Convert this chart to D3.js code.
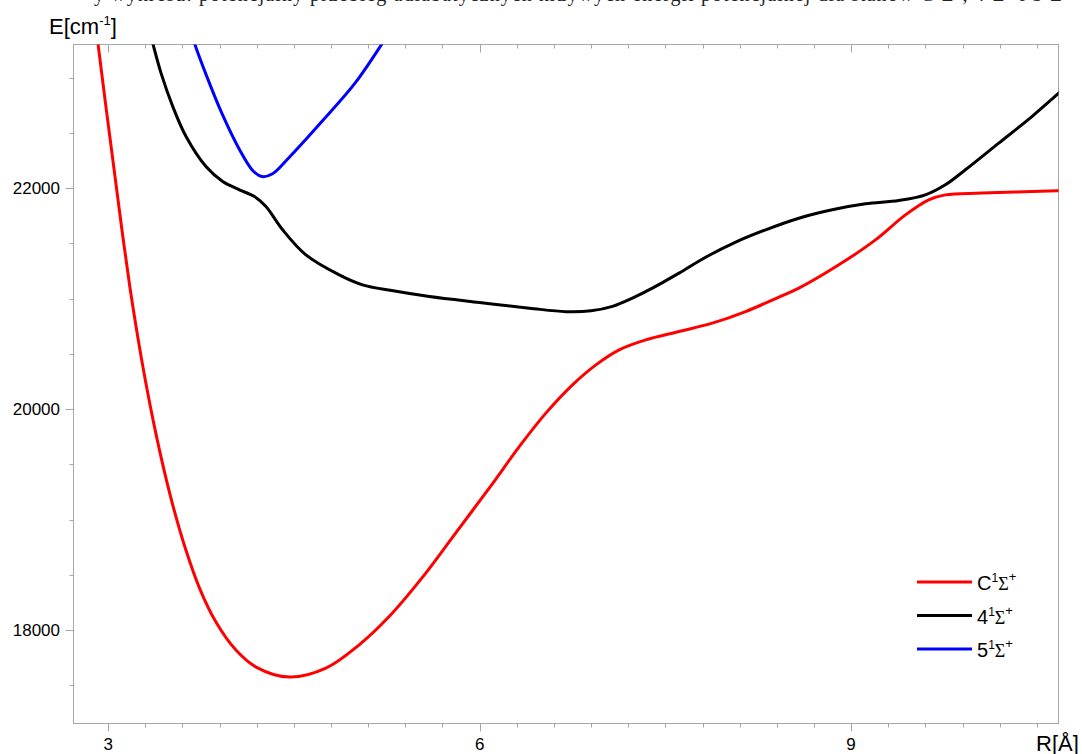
<!DOCTYPE html>
<html>
<head>
<meta charset="utf-8">
<script src="https://cdn.jsdelivr.net/npm/d3@7/dist/d3.min.js"></script>
<style>
  html, body { margin: 0; padding: 0; background: #fff; }
  svg { display: block; }
</style>
</head>
<body>
<svg id="chart" width="1082" height="754"></svg>
<script>
// Potential energy curves E(R) for three 1Σ+ states
const stateC = [
  [2.90, 23460], [2.917, 23315], [2.981, 22745], [3.046, 22184], [3.110, 21632],
  [3.175, 21107], [3.240, 20646], [3.304, 20238], [3.369, 19867], [3.449, 19460],
  [3.530, 19098], [3.627, 18727], [3.740, 18374], [3.869, 18076], [4.030, 17822],
  [4.191, 17668], [4.465, 17575], [4.758, 17656], [5.027, 17867], [5.269, 18123],
  [5.565, 18516], [5.806, 18878], [6.097, 19315], [6.320, 19661], [6.535, 19964],
  [6.750, 20220], [6.939, 20401], [7.127, 20537], [7.342, 20627], [7.610, 20702],
  [7.879, 20778], [8.148, 20883], [8.417, 21014], [8.578, 21095], [8.901, 21306],
  [9.197, 21532], [9.439, 21758], [9.627, 21894], [9.761, 21939], [10.056, 21955],
  [10.661, 21976], [10.70, 21978]
];
const state4 = [
  [3.33, 23440], [3.360, 23312], [3.427, 23041], [3.522, 22738], [3.629, 22467],
  [3.790, 22195], [3.925, 22060], [4.060, 21985], [4.181, 21924], [4.274, 21833],
  [4.409, 21623], [4.597, 21396], [4.866, 21215], [5.054, 21125], [5.290, 21073],
  [5.594, 21019], [5.998, 20965], [6.401, 20914], [6.697, 20882], [6.900, 20890],
  [7.073, 20930], [7.234, 21005], [7.395, 21095], [7.610, 21231], [7.825, 21375],
  [8.068, 21512], [8.310, 21623], [8.578, 21728], [8.847, 21804], [9.116, 21858],
  [9.385, 21888], [9.600, 21939], [9.761, 22030], [9.923, 22166], [10.192, 22407],
  [10.460, 22648], [10.661, 22844], [10.70, 22880]
];
const state5 = [
  [3.67, 23420], [3.697, 23312], [3.790, 23030], [3.925, 22660], [4.060, 22350],
  [4.167, 22160], [4.242, 22105], [4.328, 22130], [4.463, 22280], [4.731, 22610],
  [5.000, 22960], [5.215, 23312], [5.25, 23370]
];

const xMajorTicks = [3, 6, 9];
const yMajorTicks = [18000, 20000, 22000];

const series = [
  { base: "C", data: stateC, color: "#ff0000" },
  { base: "4", data: state4, color: "#000000" },
  { base: "5", data: state5, color: "#0000ff" }
];

const svg = d3.select("#chart");
const plot = { left: 73.5, top: 44.5, right: 1058.5, bottom: 723.5 };

const x = d3.scaleLinear().domain([2.72, 10.675]).range([plot.left, plot.right]);
const y = d3.scaleLinear().domain([17155, 23300]).range([plot.bottom, plot.top]);

const frameColor = "#a6a6a6";
const fontSans = "Arial, 'Liberation Sans', sans-serif";
const fontSerif = "'Times New Roman', 'Liberation Serif', serif";

// Caption line above the chart (only its lower edge lies inside the page)
svg.append("text")
  .attr("x", 94).attr("y", 1)
  .attr("font-family", fontSerif)
  .attr("font-size", 20)
  .attr("fill", "#222")
  .attr("textLength", 976)
  .text("y wykresu: potencjalny przebieg adiabatycznych krzywych energii potencjalnej dla stanów C¹Σ⁺, 4¹Σ⁺ i 5¹Σ⁺");

// Frame
svg.append("rect")
  .attr("x", plot.left).attr("y", plot.top)
  .attr("width", plot.right - plot.left).attr("height", plot.bottom - plot.top)
  .attr("fill", "none").attr("stroke", frameColor).attr("stroke-width", 1);

// X ticks every 0.3 Å, major at 3, 6, 9
const xTicks = d3.range(3, 10.6, 0.3).map(v => +v.toFixed(1));
const isMajorX = v => xMajorTicks.some(m => Math.abs(m - v) < 1e-6);

const bottomAxis = svg.append("g");
xTicks.forEach(v => {
  const px = Math.round(x(v)) + 0.5;
  const len = isMajorX(v) ? 8 : 4;
  bottomAxis.append("line")
    .attr("x1", px).attr("x2", px)
    .attr("y1", plot.bottom).attr("y2", plot.bottom + len)
    .attr("stroke", frameColor);
  svg.append("line")
    .attr("x1", px).attr("x2", px)
    .attr("y1", plot.top).attr("y2", plot.top + len)
    .attr("stroke", frameColor);
});
xMajorTicks.forEach(v => {
  bottomAxis.append("text")
    .attr("x", x(v)).attr("y", 750)
    .attr("text-anchor", "middle")
    .attr("font-family", fontSans).attr("font-size", 17)
    .attr("fill", "#000")
    .text(d3.format("d")(v));
});

// Y ticks every 500 cm-1, major every 2000
const yTicks = d3.range(17500, 23300, 500);
const leftAxis = svg.append("g");
yTicks.forEach(v => {
  const py = Math.round(y(v)) + 0.5;
  const major = yMajorTicks.includes(v);
  leftAxis.append("line")
    .attr("x1", plot.left - (major ? 8 : 4)).attr("x2", plot.left)
    .attr("y1", py).attr("y2", py)
    .attr("stroke", frameColor);
});
yMajorTicks.forEach(v => {
  leftAxis.append("text")
    .attr("x", 60).attr("y", y(v) + 6)
    .attr("text-anchor", "end")
    .attr("font-family", fontSans).attr("font-size", 17)
    .attr("fill", "#000")
    .text(d3.format("d")(v));
});

// Axis titles
const yTitle = svg.append("text")
  .attr("x", 49).attr("y", 34)
  .attr("font-family", fontSans).attr("font-size", 22).attr("fill", "#000");
yTitle.append("tspan").text("E[cm");
yTitle.append("tspan").attr("font-size", 13).attr("dy", -9).text("-1");
yTitle.append("tspan").attr("dy", 9).text("]");

svg.append("text")
  .attr("x", 1036).attr("y", 751)
  .attr("font-family", fontSans).attr("font-size", 22).attr("fill", "#000")
  .text("R[Å]");

// Curves, clipped to the plot area
svg.append("clipPath").attr("id", "plotClip")
  .append("rect")
  .attr("x", plot.left).attr("y", plot.top)
  .attr("width", plot.right - plot.left).attr("height", plot.bottom - plot.top);

const line = d3.line()
  .x(d => x(d[0]))
  .y(d => y(d[1]))
  .curve(d3.curveCatmullRom.alpha(0.5));

const curves = svg.append("g").attr("clip-path", "url(#plotClip)");
series.forEach(s => {
  curves.append("path")
    .datum(s.data)
    .attr("d", line)
    .attr("fill", "none")
    .attr("stroke", s.color)
    .attr("stroke-width", 3)
    .attr("stroke-linejoin", "round")
    .attr("stroke-linecap", "round");
});

// Legend
const legend = svg.append("g");
series.forEach((s, i) => {
  const ly = 582 + i * 33.5;
  legend.append("line")
    .attr("x1", 917).attr("x2", 972)
    .attr("y1", ly).attr("y2", ly)
    .attr("stroke", s.color).attr("stroke-width", 3);
  const t = legend.append("text")
    .attr("x", 977).attr("y", ly + 8)
    .attr("font-family", fontSans).attr("font-size", 20).attr("fill", "#000");
  t.append("tspan").text(s.base);
  t.append("tspan").attr("font-size", 12).attr("dy", -8).text("1");
  t.append("tspan")
    .attr("font-family", fontSerif)
    .attr("font-size", 18).attr("dy", 8).text("Σ");
  t.append("tspan").attr("font-size", 13).attr("dy", -9).text("+");
});
</script>
</body>
</html>
